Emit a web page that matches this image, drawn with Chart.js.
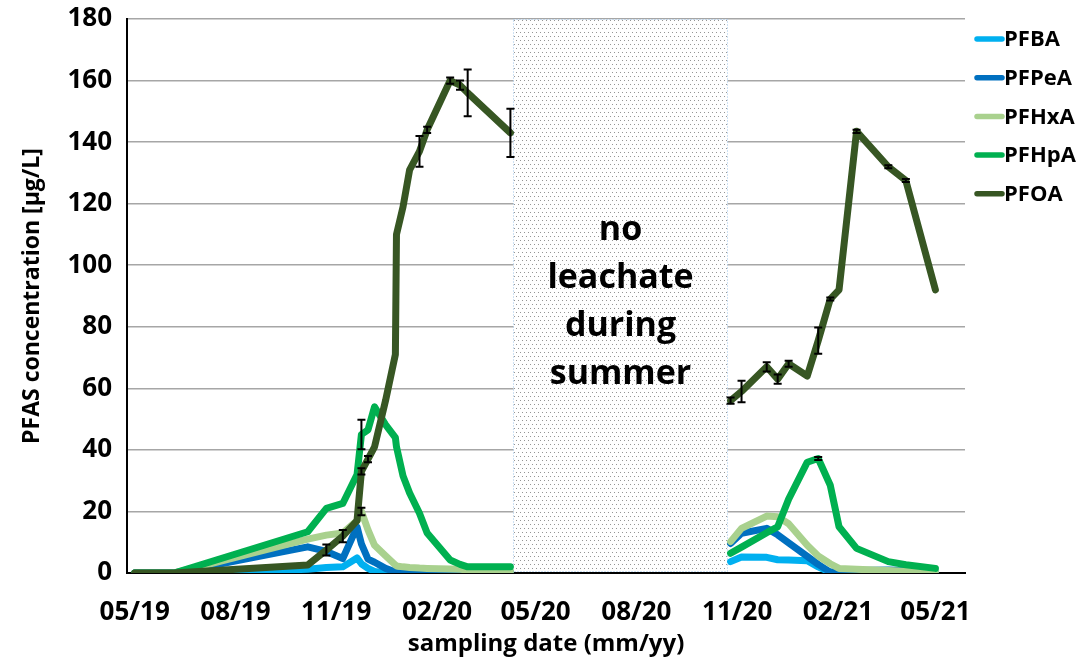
<!DOCTYPE html>
<html>
<head>
<meta charset="utf-8">
<title>PFAS concentration in leachate</title>
<script src="https://cdn.jsdelivr.net/npm/chart.js@4.4.1/dist/chart.umd.min.js"></script>
<style>
  html, body { margin: 0; padding: 0; background: #ffffff; }
  #wrap { width: 1090px; height: 660px; }
</style>
</head>
<body>
<div id="wrap"><canvas id="chart" width="1090" height="660"></canvas></div>
<script>
// ---- sampling dates (leachate collected) ----
const sampleDates = [
  '2019-05-01', '2019-06-06', '2019-10-06', '2019-10-23', '2019-11-07', '2019-11-20',
  '2019-11-24', '2019-11-30', '2019-12-06', '2019-12-16', '2019-12-25', '2019-12-26',
  '2020-01-01', '2020-01-07', '2020-01-16', '2020-01-23', '2020-02-13', '2020-02-22',
  '2020-02-29', '2020-04-08',
  '2020-10-26', '2020-11-05', '2020-11-28', '2020-12-08', '2020-12-18', '2021-01-04',
  '2021-01-14', '2021-01-25', '2021-02-02', '2021-02-18', '2021-03-19', '2021-04-04',
  '2021-05-01'
];

// ---- concentrations, µg/L ----
const PFBA  = [0, 0, 1.2, 1.8, 2, 4.9, 3, 1.5, 0.5, 0, 0, 0, 0, 0, 0, 0, 0, 0, 0, 0,
               3.7, 5.2, 5.1, 4.3, 4.2, 4.0, 2.0, 0.2, 0, 0, 0, 0, 0];
const PFPeA = [0, 0, 8.5, 7, 4.7, 15, 9.5, 4.5, 3.5, 1.5, 0.3, 0, 0, 0, 0, 0, 0, 0, 0, 0.2,
               9.6, 12.9, 14.5, 12.4, 9.8, 5.4, 2.8, 0.3, 0.5, 0.8, 1, 0.8, 0.5];
const PFHxA = [0, 0, 11, 12.3, 13, 17, 20, 14, 9, 5.6, 2.6, 2.3, 2, 1.8, 1.6, 1.5, 1.3, 1.2, 1.0, 0.5,
               10.2, 14.5, 18.5, 18.3, 16, 9, 5.5, 3, 1.5, 1.2, 0.8, 0.6, 0.5];
const PFHpA = [0, 0, 13.4, 21, 22.6, 32, 45, 46.5, 54, 48.2, 44, 41, 31.5, 26, 19.4, 13, 4.2, 2.8, 2, 2,
               6.4, 8.4, 13.1, 15, 24, 36, 37.2, 28.5, 15, 8, 3.7, 2.7, 1.5];
const PFOA  = [0, 0, 2.6, 7.5, 12, 17, 33, 37, 41, 56, 71, 110, 119, 131, 137, 144, 160, 158.5, 156, 143,
               56, 59, 67, 63, 68, 64, 75.5, 89, 92, 143.5, 132, 127.5, 92];

// ---- standard deviations (error bars) ----
const errPFHxA = [0, 0, 0, 0, 0, 0, 1.2, 0, 0, 0, 0, 0, 0, 0, 0, 0, 0, 0, 0, 0,
                  0, 0, 0, 0, 0, 0, 0, 0, 0, 0, 0, 0, 0];
const errPFHpA = [0, 0, 0, 0, 0, 0, 4.8, 0, 0, 0, 0, 0, 0, 0, 0, 0, 0, 0, 0, 0,
                  0, 0, 0, 0, 0, 0, 0.5, 0, 0, 0, 0, 0, 0];
const errPFOA  = [0, 0, 0, 1.8, 2, 0, 1, 1, 0, 0, 0, 0, 0, 0, 5, 1, 1, 1.5, 7.6, 7.8,
                  1, 3.5, 1.5, 1.5, 1, 0, 4.3, 0.5, 0, 0.5, 0.5, 0.5, 0];

// ---- axis ----
const tickDates  = ['2019-05-01', '2019-08-01', '2019-11-01', '2020-02-01', '2020-05-01',
                    '2020-08-01', '2020-11-01', '2021-02-01', '2021-05-01'];
const tickLabels = ['05/19', '08/19', '11/19', '02/20', '05/20', '08/20', '11/20', '02/21', '05/21'];
const axisRange  = ['2019-04-24', '2021-05-28'];
const yMax = 180, yStep = 20;

// ---- period without leachate ----
const noLeachatePeriod = ['2020-04-10', '2020-10-23'];
const noLeachateText = ['no', 'leachate', 'during', 'summer'];

const seriesNames  = ['PFBA', 'PFPeA', 'PFHxA', 'PFHpA', 'PFOA'];
const seriesValues = [PFBA, PFPeA, PFHxA, PFHpA, PFOA];
const seriesErrors = [null, null, errPFHxA, errPFHpA, errPFOA];
const seriesColors = ['#00b0f0', '#0070c0', '#a9d18e', '#00b050', '#375623'];

// days since the first sampling date
const ORIGIN = Date.parse(sampleDates[0]);
const dayOf = s => (Date.parse(s) - ORIGIN) / 86400000;
const sampleDays = sampleDates.map(dayOf);
const summerStart = dayOf(noLeachatePeriod[0]);
const summerEnd = dayOf(noLeachatePeriod[1]);

// points per series; the line is interrupted across the summer without leachate
function buildPoints(values) {
  const pts = [];
  sampleDays.forEach((d, i) => {
    if (i > 0 && sampleDays[i - 1] < summerStart && d > summerEnd) {
      pts.push({ x: (summerStart + summerEnd) / 2, y: null });
    }
    pts.push({ x: d, y: values[i] });
  });
  return pts;
}

const FONT = 'Open Sans';

const datasets = seriesNames.map((name, k) => ({
  label: name,
  data: buildPoints(seriesValues[k]),
  errors: seriesErrors[k],
  borderColor: seriesColors[k],
  backgroundColor: seriesColors[k],
  borderWidth: 7,
  borderCapStyle: 'round',
  borderJoinStyle: 'round',
  pointRadius: 0,
  pointHoverRadius: 0,
  tension: 0,
  spanGaps: false,
  order: seriesNames.length - k   // later compounds drawn on top
}));

// dotted fill for the no-leachate box
function dotPattern(ctx) {
  const tile = document.createElement('canvas');
  tile.width = 4; tile.height = 8;
  const t = tile.getContext('2d');
  t.fillStyle = '#959595';
  t.fillRect(0, 0, 1, 1);
  t.fillRect(2, 4, 1, 1);
  return ctx.createPattern(tile, 'repeat');
}

const summerBox = {
  id: 'summerBox',
  beforeDatasetsDraw(chart) {
    const { ctx, chartArea, scales: { x } } = chart;
    const x0 = Math.round(x.getPixelForValue(summerStart)) + 0.5;
    const x1 = Math.round(x.getPixelForValue(summerEnd)) + 0.5;
    const top = chartArea.top + 0.5, bottom = chartArea.bottom - 1.5;
    ctx.save();
    ctx.fillStyle = '#ffffff';
    ctx.fillRect(x0, top, x1 - x0, bottom - top);
    ctx.fillStyle = dotPattern(ctx);
    ctx.fillRect(x0, top, x1 - x0, bottom - top);
    ctx.strokeStyle = '#9dc3e6';
    ctx.lineWidth = 1;
    ctx.setLineDash([1, 2]);
    ctx.strokeRect(x0, top, x1 - x0, bottom - top);
    ctx.setLineDash([]);
    ctx.fillStyle = '#000000';
    ctx.font = `bold 34px "${FONT}"`;
    ctx.textAlign = 'center';
    ctx.textBaseline = 'alphabetic';
    const cx = (x0 + x1) / 2;
    const lineH = 48;
    const midBase = chartArea.top + (chartArea.bottom - chartArea.top) * 0.528;
    const first = midBase - lineH * (noLeachateText.length - 1) / 2;
    noLeachateText.forEach((s, i) => ctx.fillText(s, cx, first + i * lineH));
    ctx.restore();
  }
};

const errorBars = {
  id: 'errorBars',
  afterDatasetsDraw(chart) {
    const { ctx, scales: { x, y } } = chart;
    ctx.save();
    ctx.strokeStyle = '#000000';
    ctx.lineWidth = 2;
    chart.data.datasets.forEach(ds => {
      if (!ds.errors) return;
      const vals = seriesValues[seriesNames.indexOf(ds.label)];
      ds.errors.forEach((e, i) => {
        if (!e) return;
        const px = x.getPixelForValue(sampleDays[i]);
        const yt = y.getPixelForValue(vals[i] + e);
        const yb = y.getPixelForValue(Math.max(0, vals[i] - e));
        ctx.beginPath();
        ctx.moveTo(px, yt); ctx.lineTo(px, yb);
        ctx.moveTo(px - 4, yt); ctx.lineTo(px + 4, yt);
        ctx.moveTo(px - 4, yb); ctx.lineTo(px + 4, yb);
        ctx.stroke();
      });
    });
    ctx.restore();
  }
};

const sideLegend = {
  id: 'sideLegend',
  afterDraw(chart) {
    const { ctx, chartArea } = chart;
    const x0 = chartArea.right + 10;
    ctx.save();
    ctx.font = `bold 22px "${FONT}"`;
    ctx.textAlign = 'left';
    ctx.textBaseline = 'middle';
    seriesNames.forEach((name, k) => {
      const yy = 39 + k * 38.7;
      ctx.strokeStyle = seriesColors[k];
      ctx.lineWidth = 5.5;
      ctx.lineCap = 'round';
      ctx.beginPath();
      ctx.moveTo(x0 + 2, yy); ctx.lineTo(x0 + 27, yy);
      ctx.stroke();
      ctx.fillStyle = '#000000';
      ctx.fillText(name, x0 + 29, yy + 1);
    });
    ctx.restore();
  }
};

new Chart(document.getElementById('chart'), {
  type: 'line',
  data: { datasets },
  plugins: [summerBox, errorBars, sideLegend],
  options: {
    responsive: false,
    animation: false,
    devicePixelRatio: 1,
    layout: { padding: { top: 19, right: 125, bottom: 0, left: 0 } },
    plugins: { legend: { display: false }, tooltip: { enabled: false } },
    scales: {
      x: {
        type: 'linear',
        min: dayOf(axisRange[0]),
        max: dayOf(axisRange[1]),
        afterBuildTicks: scale => { scale.ticks = tickDates.map(d => ({ value: dayOf(d) })); },
        afterFit: scale => { scale.height = 87; },
        grid: { display: false },
        border: { display: true, color: '#000000', width: 2 },
        ticks: {
          autoSkip: false,
          maxRotation: 0,
          padding: 16,
          color: '#000000',
          font: { family: FONT, weight: 'bold', size: 26 },
          callback: (v, i) => tickLabels[i]
        },
        title: {
          display: true,
          text: 'sampling date (mm/yy)',
          color: '#000000',
          font: { family: FONT, weight: 'bold', size: 24 },
          padding: { top: 0, bottom: 1 }
        }
      },
      y: {
        min: 0,
        max: yMax,
        afterFit: scale => { scale.width = 127; scale.paddingTop = 0; scale.paddingBottom = 0; },
        ticks: {
          stepSize: yStep,
          padding: 15,
          color: '#000000',
          font: { family: FONT, weight: 'bold', size: 26 }
        },
        grid: { color: '#a6a6a6', lineWidth: 1.5, drawTicks: false },
        border: { display: true, color: '#000000', width: 2 },
        title: {
          display: true,
          text: 'PFAS concentration [µg/L]',
          color: '#000000',
          font: { family: FONT, weight: 'bold', size: 23 },
          padding: { top: 19, bottom: 0 }
        }
      }
    }
  }
});
</script>
</body>
</html>
